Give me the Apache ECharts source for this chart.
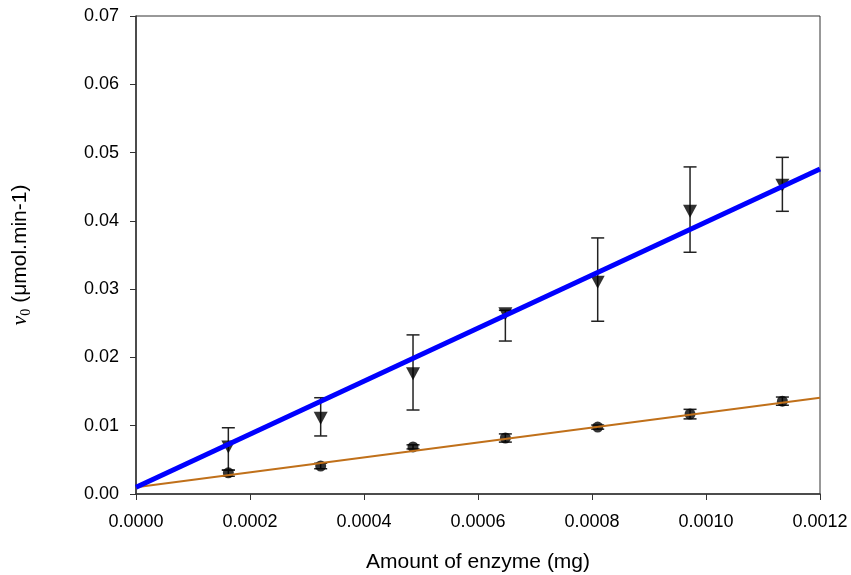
<!DOCTYPE html>
<html>
<head>
<meta charset="utf-8">
<script src="https://cdn.jsdelivr.net/npm/echarts@6/dist/echarts.min.js"></script>
<style>
  html, body { margin: 0; padding: 0; background: #fff; }
  #chart { width: 851px; height: 575px; }
</style>
</head>
<body>
<div id="chart"></div>
<script>
// Enzyme amount (mg) for each measurement
const enzymeMg = [0.000162, 0.000324, 0.000486, 0.000648, 0.00081, 0.000972, 0.001134];

// Triangle series: mean initial rate and error bar limits
const rateA = [0.0069, 0.0111, 0.0176, 0.0264, 0.0310, 0.0414, 0.0452];
const rateALow = [0.0035, 0.0085, 0.0123, 0.0224, 0.0253, 0.0354, 0.0414];
const rateAHigh = [0.0097, 0.0141, 0.0233, 0.0269, 0.0375, 0.0479, 0.0493];

// Circle series: mean initial rate and error bar limits
const rateB = [0.0031, 0.0041, 0.0069, 0.0082, 0.0098, 0.0117, 0.0136];
const rateBLow = [0.0026, 0.0037, 0.0066, 0.0076, 0.0095, 0.0110, 0.0130];
const rateBHigh = [0.0035, 0.0045, 0.0072, 0.0088, 0.0101, 0.0124, 0.0142];

// Linear fits, given by their end points
const fitX = [0, 0.0012];
const fitA = [0.0010, 0.0476];
const fitB = [0.0010, 0.0141];

const pairs = (xs, ys) => xs.map((x, i) => [x, ys[i]]);
const bars = (lo, hi) => enzymeMg.map((x, i) => [x, lo[i], hi[i]]);

function errorBar(params, api) {
  const x = api.value(0);
  const lo = api.coord([x, api.value(1)]);
  const hi = api.coord([x, api.value(2)]);
  const half = 6.5;
  const style = { stroke: '#222', lineWidth: 1.5 };
  return {
    type: 'group',
    children: [
      { type: 'line', shape: { x1: lo[0], y1: lo[1], x2: hi[0], y2: hi[1] }, style },
      { type: 'line', shape: { x1: lo[0] - half, y1: lo[1], x2: lo[0] + half, y2: lo[1] }, style },
      { type: 'line', shape: { x1: hi[0] - half, y1: hi[1], x2: hi[0] + half, y2: hi[1] }, style }
    ]
  };
}

const font = 'Liberation Sans, Arial, sans-serif';
const chart = echarts.init(document.getElementById('chart'), null, { renderer: 'canvas' });

chart.setOption({
  animation: false,
  backgroundColor: '#fff',
  grid: {
    left: 136, right: 31, top: 16, bottom: 81,
    containLabel: false, outerBoundsMode: 'none',
    show: true, borderColor: '#333', borderWidth: 1, backgroundColor: 'transparent'
  },
  xAxis: {
    type: 'value', min: 0, max: 0.0012, interval: 0.0002,
    name: 'Amount of enzyme (mg)', nameLocation: 'middle', nameGap: 58,
    nameTextStyle: { fontFamily: font, fontSize: 21, color: '#000' },
    axisLine: { show: true, onZero: false, lineStyle: { color: '#333', width: 1.5 } },
    axisTick: { show: true, length: 6, lineStyle: { color: '#333' } },
    axisLabel: { margin: 19, fontFamily: font, fontSize: 18, color: '#000',
      formatter: v => v.toFixed(4) },
    splitLine: { show: false }
  },
  yAxis: {
    type: 'value', min: 0, max: 0.07, interval: 0.01,
    name: '{v|v}{sub|0}{t| (μmol.min-1)}', nameLocation: 'middle', nameRotate: 90, nameGap: 103,
    nameTextStyle: {
      color: '#000',
      rich: {
        v: { fontFamily: 'Liberation Serif, Times New Roman, serif', fontStyle: 'italic', fontSize: 22, lineHeight: 26, color: '#000' },
        sub: { fontFamily: 'Liberation Serif, Times New Roman, serif', fontSize: 14, lineHeight: 15, verticalAlign: 'bottom', color: '#000' },
        t: { fontFamily: font, fontSize: 21, lineHeight: 26, color: '#000' }
      }
    },
    axisLine: { show: true, onZero: false, lineStyle: { color: '#333', width: 1.5 } },
    axisTick: { show: true, length: 6, lineStyle: { color: '#333' } },
    axisLabel: { margin: 17, fontFamily: font, fontSize: 18, color: '#000',
      formatter: v => v.toFixed(2) },
    splitLine: { show: false }
  },
  series: [
    {
      type: 'custom', renderItem: errorBar, data: bars(rateALow, rateAHigh),
      encode: { x: 0, y: [1, 2] }, z: 2, silent: true
    },
    {
      type: 'custom', renderItem: errorBar, data: bars(rateBLow, rateBHigh),
      encode: { x: 0, y: [1, 2] }, z: 2, silent: true
    },
    {
      type: 'scatter', data: pairs(enzymeMg, rateA),
      symbol: 'triangle', symbolRotate: 180, symbolSize: [14, 13],
      itemStyle: { color: '#000' }, z: 3
    },
    {
      type: 'scatter', data: pairs(enzymeMg, rateB),
      symbol: 'circle', symbolSize: 11,
      itemStyle: { color: '#000' }, z: 3
    },
    {
      type: 'line', data: pairs(fitX, fitB), showSymbol: false,
      lineStyle: { color: '#c0701a', width: 2 }, z: 4
    },
    {
      type: 'line', data: pairs(fitX, fitA), showSymbol: false,
      lineStyle: { color: '#0000ff', width: 5 }, z: 4
    }
  ]
});
</script>
</body>
</html>
